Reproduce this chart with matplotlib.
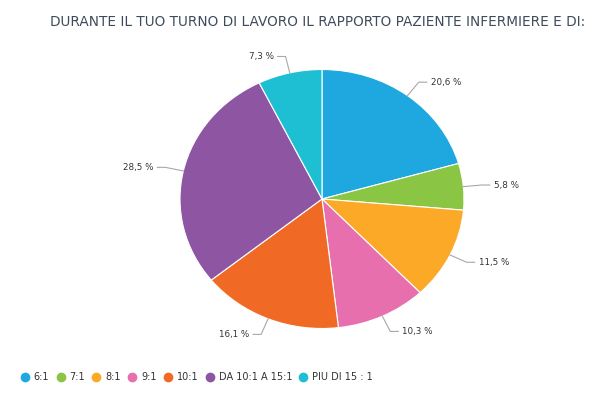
import numpy as np
import matplotlib
matplotlib.use("Agg")
import matplotlib.pyplot as plt
from matplotlib.lines import Line2D

categories = ["6:1", "7:1", "8:1", "9:1", "10:1", "DA 10:1 A 15:1", "PIU DI 15 : 1"]
values = [20.6, 5.8, 11.5, 10.3, 16.1, 28.5, 7.3]
labels = ["20,6 %", "5,8 %", "11,5 %", "10,3 %", "16,1 %", "28,5 %", "7,3 %"]
colors = ["#1fa8e0", "#8bc544", "#fca927", "#e86fae", "#f06a25", "#8e55a3", "#1ebfd3"]
title = "DURANTE IL TUO TURNO DI LAVORO IL RAPPORTO PAZIENTE INFERMIERE E DI:"

W, H = 595, 394
fig = plt.figure(figsize=(W / 100, H / 100), dpi=100)

# pie area in pixels
cx, cy, rx, ry = 322, 199, 142, 129.5
ax = fig.add_axes([(cx - rx) / W, 1 - (cy + ry) / H, 2 * rx / W, 2 * ry / H])
wedges, _ = ax.pie(values, colors=colors, startangle=90, counterclock=False,
                   wedgeprops=dict(edgecolor="white", linewidth=0.8))
ax.set_aspect("auto")
ax.set_xlim(-1, 1)
ax.set_ylim(-1, 1)
ax.axis("off")

px_x = 2.0 / (2 * rx)
for w, lab in zip(wedges, labels):
    ang = np.deg2rad((w.theta1 + w.theta2) / 2)
    c, s = np.cos(ang), np.sin(ang)
    x0, y0 = c * 1.0, s * 1.0
    x1, y1 = c * 1.13, s * 1.13
    side = 1 if c >= 0 else -1
    x2 = x1 + side * 8 * px_x
    ax.plot([x0, x1, x2], [y0, y1, y1], color="#a8a8a8", lw=0.8, clip_on=False)
    ax.text(x2 + side * 4 * px_x, y1, lab, ha="left" if side > 0 else "right",
            va="center", fontsize=6.3, color="#333333", clip_on=False)

fig.text(50 / W, 1 - 22 / H, title, fontsize=9.8, color="#3e4b5b",
         ha="left", va="center")

handles = [Line2D([0], [0], marker="o", linestyle="none", markersize=6,
                  markerfacecolor=col, markeredgecolor=col) for col in colors]
fig.legend(handles, categories, loc="center left", bbox_to_anchor=(20 / W, 1 - 377 / H),
           ncol=7, frameon=False, fontsize=7.0, handletextpad=0.42,
           columnspacing=0.66, handlelength=1.0, borderpad=0, borderaxespad=0,
           labelcolor="#333333")

fig.savefig("out.png", dpi=100, facecolor="white")
